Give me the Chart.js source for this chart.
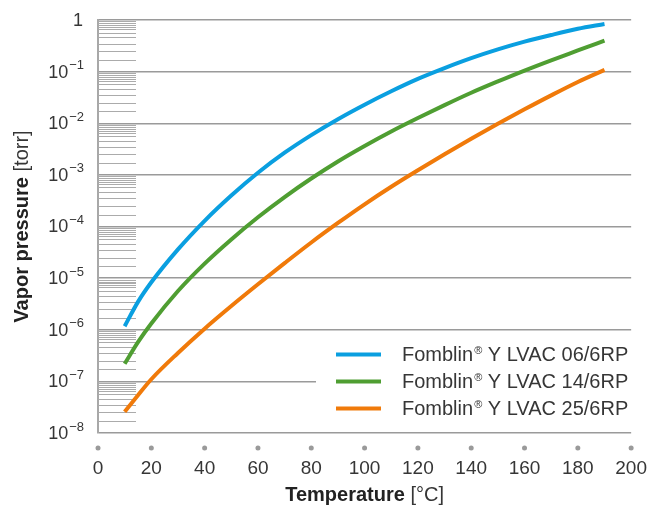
<!DOCTYPE html>
<html>
<head>
<meta charset="utf-8">
<script src="https://cdn.jsdelivr.net/npm/chart.js@4"></script>
<style>
html, body { margin: 0; padding: 0; background: #fff; }
#wrap { width: 671px; height: 509px; }
</style>
</head>
<body>
<div id="wrap"><canvas id="vapor"></canvas></div>
<script>
// data (temperature in °C, vapor pressure in torr)
const temps = [10, 15, 20, 30, 40, 50, 60, 70, 80, 90, 100, 110, 120, 130, 140, 150, 160, 170, 180, 190];
const lvac06 = [1.17e-6, 3.47e-6, 8.3e-6, 3.6e-5, 1.29e-4, 3.98e-4, 1.10e-3, 2.69e-3, 5.9e-3, 1.20e-2, 2.29e-2, 4.17e-2, 7.24e-2, 0.117, 0.182, 0.269, 0.380, 0.513, 0.676, 0.84];
const lvac14 = [2.19e-7, 5.75e-7, 1.32e-6, 5.62e-6, 1.91e-5, 5.62e-5, 1.51e-4, 3.72e-4, 8.51e-4, 1.82e-3, 3.63e-3, 6.92e-3, 1.26e-2, 2.24e-2, 3.89e-2, 6.46e-2, 0.105, 0.166, 0.257, 0.398];
const lvac25 = [2.57e-8, 5.4e-8, 1.10e-7, 3.55e-7, 1.05e-6, 2.88e-6, 7.59e-6, 1.95e-5, 4.90e-5, 1.17e-4, 2.69e-4, 5.89e-4, 1.23e-3, 2.51e-3, 5.01e-3, 9.77e-3, 1.86e-2, 3.47e-2, 6.31e-2, 0.108];
const seriesNames = ["Fomblin® Y LVAC 06/6RP", "Fomblin® Y LVAC 14/6RP", "Fomblin® Y LVAC 25/6RP"];
const seriesColors = ["#0a9fe0", "#4f9e32", "#f07a0a"];

// axis ticks
const xTicks = [0, 20, 40, 60, 80, 100, 120, 140, 160, 180, 200];
const yTicks = [1e-8, 1e-7, 1e-6, 1e-5, 1e-4, 1e-3, 1e-2, 1e-1, 1];
const yExps = [-8, -7, -6, -5, -4, -3, -2, -1, 0];
const minorMantissa = [1.7, 2.5, 3.5, 4.6, 5.7, 6.6, 7.2, 7.9, 8.6, 9.4];

const FONT = "'Liberation Sans', Arial, sans-serif";
const TXT = "#363636";

const toPoints = function(vals) {
    return temps.map((t, i) => ({ x: t, y: vals[i] }));
};

const allSeries = [lvac06, lvac14, lvac25];
const datasets = allSeries.map((vals, i) => ({
    label: seriesNames[i],
    data: toPoints(vals),
    borderColor: seriesColors[i],
    borderWidth: 4,
    pointRadius: 0,
    fill: false,
    cubicInterpolationMode: 'monotone'
}));

// extra drawing: minor ticks, y labels w/ superscripts, dots, titles, legend
const extras = {
    id: 'extras',
    beforeDatasetsDraw(chart) {
        const ctx = chart.ctx;
        const y = chart.scales.y;
        const left = chart.chartArea.left;
        ctx.save();
        ctx.strokeStyle = '#ababab';
        ctx.lineWidth = 1.2;
        for (let e = -8; e < 0; e++) {
            minorMantissa.forEach(m => {
                const py = Math.round(y.getPixelForValue(m * Math.pow(10, e))) + 0.5;
                ctx.beginPath();
                ctx.moveTo(left, py);
                ctx.lineTo(left + 38, py);
                ctx.stroke();
            });
        }
        ctx.restore();
    },
    afterDraw(chart) {
        const ctx = chart.ctx;
        const xs = chart.scales.x;
        const ys = chart.scales.y;
        const area = chart.chartArea;
        ctx.save();

        // y labels
        const right = 84;
        yTicks.forEach((v, i) => {
            const py = ys.getPixelForValue(v);
            ctx.fillStyle = TXT;
            ctx.textBaseline = 'middle';
            ctx.textAlign = 'right';
            if (yExps[i] === 0) {
                ctx.font = '18px ' + FONT;
                ctx.fillText('1', right - 1, py + 1);
            } else {
                const ex = '\u2212' + Math.abs(yExps[i]);
                ctx.font = '13px ' + FONT;
                const w = ctx.measureText(ex).width;
                ctx.fillText(ex, right, py - 6);
                ctx.font = '18px ' + FONT;
                ctx.fillText('10', right - w - 1, py + 1);
            }
        });

        // dots on the x axis
        ctx.fillStyle = '#9a9a9a';
        xTicks.forEach(v => {
            const px = xs.getPixelForValue(v);
            ctx.beginPath();
            ctx.arc(px, 448, 2.5, 0, Math.PI * 2);
            ctx.fill();
        });

        // axis titles (bold + normal parts)
        const drawTitle = function(bold, normal, cx, cy) {
            ctx.font = 'bold 20px ' + FONT;
            const wb = ctx.measureText(bold).width;
            ctx.font = '20px ' + FONT;
            const wn = ctx.measureText(normal).width;
            const start = cx - (wb + wn) / 2;
            ctx.textAlign = 'left';
            ctx.textBaseline = 'middle';
            ctx.fillStyle = '#222';
            ctx.font = 'bold 20px ' + FONT;
            ctx.fillText(bold, start, cy);
            ctx.fillStyle = TXT;
            ctx.font = '20px ' + FONT;
            ctx.fillText(normal, start + wb, cy);
        };
        const midX = (area.left + area.right) / 2;
        const midY = (area.top + area.bottom) / 2;
        drawTitle('Temperature', ' [\u00b0C]', midX, 495);
        ctx.save();
        ctx.translate(22, midY);
        ctx.rotate(-Math.PI / 2);
        drawTitle('Vapor pressure', ' [torr]', 0, 0);
        ctx.restore();

        // legend box
        ctx.fillStyle = '#fff';
        ctx.fillRect(316, 332, area.right - 316 + 1, 99);
        const rows = [354.5, 381.5, 408.5];
        seriesNames.forEach((name, i) => {
            const ry = rows[i];
            ctx.strokeStyle = seriesColors[i];
            ctx.lineWidth = 4;
            ctx.beginPath();
            ctx.moveTo(336, ry);
            ctx.lineTo(381, ry);
            ctx.stroke();
            const parts = name.split('\u00ae');
            ctx.fillStyle = TXT;
            ctx.textAlign = 'left';
            ctx.textBaseline = 'middle';
            ctx.font = '20px ' + FONT;
            let tx = 402;
            ctx.fillText(parts[0], tx, ry + 1);
            tx += ctx.measureText(parts[0]).width + 1;
            ctx.font = '11px ' + FONT;
            ctx.fillText('\u00ae', tx, ry - 4);
            tx += ctx.measureText('\u00ae').width;
            ctx.font = '20px ' + FONT;
            ctx.fillText(parts[1], tx, ry + 1);
        });

        ctx.restore();
    }
};

new Chart(document.getElementById('vapor'), {
    type: 'line',
    data: { datasets: datasets },
    options: {
        responsive: true,
        maintainAspectRatio: false,
        animation: false,
        layout: { padding: { top: 20, right: 35, left: 0, bottom: 0 } },
        plugins: {
            legend: { display: false },
            tooltip: { enabled: false }
        },
        scales: {
            x: {
                type: 'linear',
                min: 0,
                max: 200,
                afterBuildTicks: (s) => { s.ticks = xTicks.map(v => ({ value: v })); },
                grid: { display: false, drawTicks: false },
                border: { display: false },
                ticks: {
                    padding: 24,
                    autoSkip: false,
                    maxRotation: 0,
                    color: TXT,
                    font: { family: FONT, size: 19 }
                },
                afterFit: (s) => { s.height = 76; }
            },
            y: {
                type: 'logarithmic',
                min: 1e-8,
                max: 1,
                afterBuildTicks: (s) => { s.ticks = yTicks.map(v => ({ value: v })); },
                grid: { color: '#9a9a9a', lineWidth: 1.5, drawTicks: false },
                border: { display: true, color: '#a8a8a8', width: 2 },
                ticks: { display: false },
                afterFit: (s) => { s.width = 98; }
            }
        }
    },
    plugins: [extras]
});
</script>
</body>
</html>
